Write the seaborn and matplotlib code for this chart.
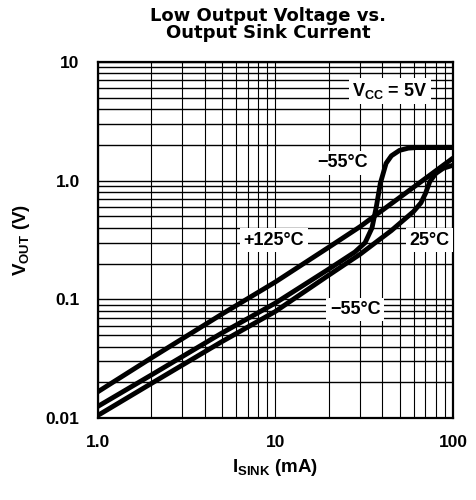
import matplotlib
matplotlib.use("Agg")
import matplotlib.pyplot as plt
import matplotlib.ticker as mticker
from matplotlib import font_manager
import seaborn as sns
import pandas as pd

# values (I sink in mA, V out in V)
sink_125 = [1, 2, 5, 10, 20, 30, 50, 100]
vout_125 = [0.0166, 0.032, 0.075, 0.14, 0.275, 0.41, 0.72, 1.55]

sink_25 = [1, 2, 5, 10, 20, 30, 45, 60, 66, 70, 74, 80, 88, 100]
vout_25 = [0.0105, 0.0195, 0.044, 0.079, 0.16, 0.24, 0.38, 0.55, 0.65, 0.78, 0.98, 1.15, 1.27, 1.35]

sink_m55 = [1, 2, 5, 10, 20, 28, 32, 35, 37, 39, 42, 45, 50, 56, 62, 100]
vout_m55 = [0.0125, 0.023, 0.052, 0.093, 0.18, 0.25, 0.3, 0.4, 0.6, 0.95, 1.4, 1.62, 1.8, 1.88, 1.9, 1.9]

x_ticks = [1, 10, 100]
x_labels = ["1.0", "10", "100"]
y_ticks = [0.01, 0.1, 1, 10]
y_labels = ["0.01", "0.1", "1.0", "10"]

df = pd.concat([
    pd.DataFrame({"isink": sink_125, "vout": vout_125, "temp": "+125"}),
    pd.DataFrame({"isink": sink_25, "vout": vout_25, "temp": "25"}),
    pd.DataFrame({"isink": sink_m55, "vout": vout_m55, "temp": "-55"}),
])

sns.set_style("white", {"text.color": "black", "axes.labelcolor": "black",
                        "xtick.color": "black", "ytick.color": "black"})
plt.rcParams['font.family'] = ['Liberation Sans', 'DejaVu Sans']

# the chart's own lettering is a narrow bold face
installed = {f.name for f in font_manager.fontManager.ttflist}
if "Liberation Sans Narrow" in installed:
    narrow, small = "Liberation Sans Narrow", 14
else:
    narrow, small = "Liberation Sans", 12.5

plt.rcParams['mathtext.fontset'] = 'custom'
plt.rcParams['mathtext.rm'] = narrow + ':bold'
plt.rcParams['mathtext.it'] = narrow + ':bold'
plt.rcParams['mathtext.bf'] = narrow + ':bold'

fig = plt.figure(figsize=(4.76, 5.0), dpi=100)
ax = fig.add_axes([97.7 / 476, 82 / 500, (453 - 97.7) / 476, (418 - 62) / 500])

sns.lineplot(data=df, x="isink", y="vout", hue="temp", units="temp", estimator=None,
             sort=False, palette={"+125": "black", "25": "black", "-55": "black"},
             linewidth=3.5, legend=False, ax=ax, zorder=3)

ax.set_xscale("log")
ax.set_yscale("log")
ax.set_xlim(1, 100)
ax.set_ylim(0.01, 10)

ax.grid(True, which="both", axis="x", color="black", linewidth=0.8)
ax.grid(True, which="both", axis="y", color="black", linewidth=1.0)
ax.set_xticks(x_ticks)
ax.set_xticklabels(x_labels)
ax.set_yticks(y_ticks)
ax.set_yticklabels(y_labels)
ax.xaxis.set_minor_formatter(mticker.NullFormatter())
ax.yaxis.set_minor_formatter(mticker.NullFormatter())
ax.tick_params(which="both", length=0, colors="black")
ax.tick_params(axis="x", pad=12)
ax.tick_params(axis="y", pad=13)
for lbl in ax.get_xticklabels() + ax.get_yticklabels():
    lbl.set_fontweight("bold")
    lbl.set_family(narrow)
    lbl.set_fontsize(small)
    lbl.set_color("black")
for sp in ax.spines.values():
    sp.set_color("black")
    sp.set_linewidth(1.6)

ax.set_xlabel(r"I$_{\rm SINK}$ (mA)", fontsize=13.5, fontweight="bold", va="center", color="black")
ax.set_ylabel(r"V$_{\rm OUT}$ (V)", fontsize=13.5, fontweight="bold", va="center", color="black")
ax.xaxis.set_label_coords(0.5, -(467 - 418) / 356)
ax.yaxis.set_label_coords((21.5 - 97.7) / 355.3, 0.5)

box = dict(facecolor="white", edgecolor="none", pad=2.5)
txt = dict(fontsize=small + 0.5, fontweight="bold", family=narrow, ha="center", va="center",
           bbox=box, zorder=5, color="black")
ax.text(44.2, 5.69, r"V$_{\rm CC}$ = 5V", **txt)
ax.text(23.9, 1.41, "\u221255\u00b0C", **txt)
ax.text(9.83, 0.316, "+125\u00b0C", **txt)
ax.text(73.3, 0.316, "25\u00b0C", **txt)
ax.text(28.1, 0.082, "\u221255\u00b0C", **txt)

ttl = dict(ha="center", va="baseline", fontsize=13, fontweight="bold", family="DejaVu Sans",
           color="black")
fig.text(268 / 476, 1 - 21 / 500, "Low Output Voltage vs.", **ttl)
fig.text(268 / 476, 1 - 38 / 500, "Output Sink Current", **ttl)

fig.savefig("out.png", dpi=100)
